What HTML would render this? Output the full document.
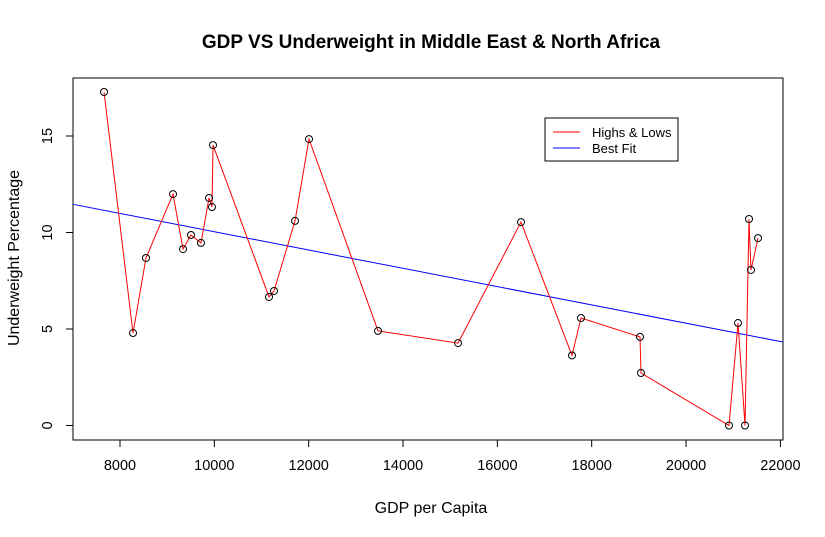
<!DOCTYPE html>
<html><head><meta charset="utf-8"><style>
body{margin:0;background:#fff;}
svg{display:block;font-family:"Liberation Sans",Arial,sans-serif;}
</style></head><body>
<svg id="chart" width="825" height="537">
<text x="431" y="48" text-anchor="middle" font-size="19" font-weight="bold">GDP VS Underweight in Middle East &amp; North Africa</text>
<text x="431" y="513" text-anchor="middle" font-size="16">GDP per Capita</text>
<text x="0" y="0" transform="translate(19,258) rotate(-90)" text-anchor="middle" font-size="16">Underweight Percentage</text>
<rect x="73" y="78" width="710" height="362" fill="none" stroke="#000"/>
<g id="axes"></g>
<g id="series"></g>
<g>
<rect x="545" y="118" width="133" height="43" fill="#fff" stroke="#000"/>
<line x1="553" y1="132" x2="580" y2="132" stroke="red"/>
<text x="592" y="137" font-size="13">Highs &amp; Lows</text>
<line x1="553" y1="148" x2="580" y2="148" stroke="blue"/>
<text x="592" y="153" font-size="13">Best Fit</text>
</g>
</svg>
<script>
const gdp=[7661,8276,8551,9124,9336,9505,9717,9887,9950,9972,11159,11265,11710,12007,13470,15166,16501,17582,17773,19024,19045,20911,21102,21250,21335,21377,21526];
const underweight=[17.28,4.79,8.68,11.99,9.14,9.87,9.46,11.79,11.32,14.53,6.66,6.97,10.60,14.84,4.90,4.27,10.54,3.63,5.57,4.59,2.72,0,5.31,0,10.70,8.06,9.71];
const fitCoef=[14.78,-0.000474];
const xTicks=[8000,10000,12000,14000,16000,18000,20000,22000];
const yTicks=[0,5,10,15];
const NS="http://www.w3.org/2000/svg";
const xs=v=>120+(v-8000)*0.04717;
const ys=v=>425.5-v*19.3;
const axes=document.getElementById('axes'),series=document.getElementById('series');
function mk(tag,attrs,parent){const e=document.createElementNS(NS,tag);for(const k in attrs)e.setAttribute(k,attrs[k]);parent.appendChild(e);return e;}
xTicks.forEach(t=>{
 const l=mk('line',{x1:xs(t),x2:xs(t),y1:440,y2:447,stroke:'#000'},axes);
 
 
 const tx=mk('text',{x:xs(t),y:470,'text-anchor':'middle','font-size':14.5},axes);tx.textContent=t;
 
 
});
yTicks.forEach(t=>{
 const l=mk('line',{x1:66,x2:73,y1:ys(t),y2:ys(t),stroke:'#000'},axes);
 
 
 const tx=mk('text',{x:0,y:0,transform:`translate(52,${ys(t)}) rotate(-90)`,'text-anchor':'middle','font-size':14.5},axes);tx.textContent=t;
 
 
});
const x0=7004,x1=22056;
const fit=mk('line',{x1:xs(x0),y1:ys(fitCoef[0]+fitCoef[1]*x0),x2:xs(x1),y2:ys(fitCoef[0]+fitCoef[1]*x1),stroke:'blue'},series);


const pl=mk('polyline',{points:gdp.map((g,i)=>xs(g)+','+ys(underweight[i])).join(' '),fill:'none',stroke:'red'},series);


gdp.forEach((g,i)=>{
 const c=mk('circle',{cx:xs(g),cy:ys(underweight[i]),r:3.5,fill:'none',stroke:'#000'},series);
 
 
});
</script>
</body></html>
